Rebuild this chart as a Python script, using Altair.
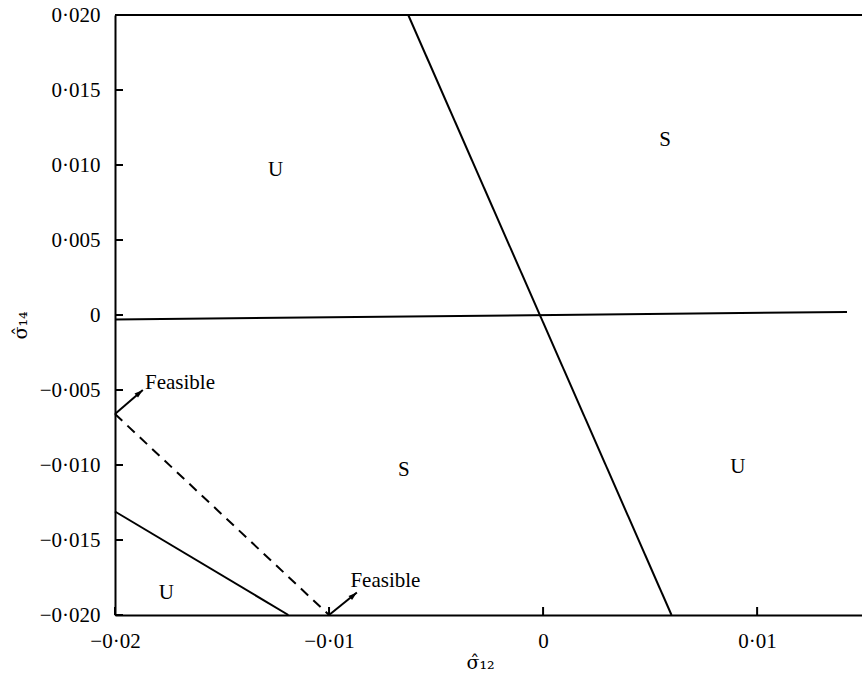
import altair as alt
import pandas as pd

# ---- data (sigma12 on x, sigma14 on y) ----
x_ticks = [-0.02, -0.01, 0.0, 0.01]
y_ticks = [-0.020, -0.015, -0.010, -0.005, 0.0, 0.005, 0.010, 0.015, 0.020]

horiz_x = [-0.0200, 0.0142]
horiz_y = [-0.0003, 0.0002]
steep_x = [-0.0063, 0.0060]
steep_y = [0.0200, -0.0200]
lower_x = [-0.0200, -0.0119]
lower_y = [-0.0131, -0.0200]
dashed_x = [-0.0200, -0.0100]
dashed_y = [-0.0066, -0.0200]

region_text = ["U", "S", "S", "U", "U"]
region_x = [-0.0125, 0.0057, -0.0065, 0.0091, -0.0176]
region_y = [0.0097, 0.0117, -0.0103, -0.0101, -0.0185]

arrow_x0 = [-0.0200, -0.0100]
arrow_y0 = [-0.0066, -0.0200]
arrow_x1 = [-0.0187, -0.0087]
arrow_y1 = [-0.0050, -0.0185]

feas_text = ["Feasible", "Feasible"]
feas_x = [-0.0186, -0.0090]
feas_y = [-0.0045, -0.0177]

# ---- tables ----
solid_df = pd.DataFrame({
    "x": horiz_x + steep_x + lower_x,
    "y": horiz_y + steep_y + lower_y,
    "seg": ["h", "h", "s", "s", "l", "l"],
})
dashed_df = pd.DataFrame({"x": dashed_x, "y": dashed_y})
region_df = pd.DataFrame({"x": region_x, "y": region_y, "t": region_text})
arrow_df = pd.DataFrame({"x": arrow_x0, "y": arrow_y0, "x2": arrow_x1, "y2": arrow_y1})
head_df = pd.DataFrame({"x": arrow_x1, "y": arrow_y1})
feas_df = pd.DataFrame({"x": feas_x, "y": feas_y, "t": feas_text})
xt_df = pd.DataFrame({"x": x_ticks})
yt_df = pd.DataFrame({"y": y_ticks})

W, H = 747, 600
FONT = "Liberation Serif"
TFONT = "DejaVu Serif"

xscale = alt.Scale(domain=[-0.02, 0.0149], nice=False, zero=False)
yscale = alt.Scale(domain=[-0.02, 0.02], nice=False, zero=False)

xaxis = alt.Axis(
    values=x_ticks, ticks=False, grid=False, domain=True, labelFlush=False,
    domainColor="black", domainWidth=2,
    labelExpr="datum.value == 0 ? '0' : replace(replace(format(datum.value, '.2f'), '.', '·'), '-', '−')",
    labelPadding=15, labelFontSize=21, labelFont=FONT, labelColor="black",
    title="σ̂₁₂", titleFont=TFONT, titleFontSize=19, titleFontWeight="normal",
    titleColor="black", titleX=365, titleY=47, titleAlign="center", titleBaseline="middle",
)
yaxis = alt.Axis(
    values=y_ticks, ticks=False, grid=False, domain=True, labelFlush=False,
    domainColor="black", domainWidth=2,
    labelExpr="datum.value == 0 ? '0' : replace(replace(format(datum.value, '.3f'), '.', '·'), '-', '−')",
    labelPadding=15, labelFontSize=21, labelFont=FONT, labelColor="black",
    title="σ̂₁₄", titleFont=TFONT, titleFontSize=19, titleFontWeight="normal",
    titleColor="black", titleX=-95, titleY=310, titleAngle=270,
    titleAlign="center", titleBaseline="middle",
)


def X(f="x"):
    return alt.X(f"{f}:Q", scale=xscale, axis=xaxis)


def Y(f="y"):
    return alt.Y(f"{f}:Q", scale=yscale, axis=yaxis)


solid = alt.Chart(solid_df).mark_line(color="black", strokeWidth=2).encode(
    x=X(), y=Y(), detail="seg:N"
)
dashed = alt.Chart(dashed_df).mark_line(
    color="black", strokeWidth=2, strokeDash=[10, 7]
).encode(x=X(), y=Y())

arrows = alt.Chart(arrow_df).mark_rule(color="black", strokeWidth=2).encode(
    x=X(), y=Y(), x2="x2:Q", y2="y2:Q"
)
heads = alt.Chart(head_df).mark_point(
    shape="M0,0L-0.45,1.4L0.45,1.4Z", filled=True, color="black",
    size=150, angle=50, opacity=1
).encode(x=X(), y=Y())

regions = alt.Chart(region_df).mark_text(
    font=FONT, fontSize=21, color="black", align="center", baseline="middle"
).encode(x=X(), y=Y(), text="t:N")

feas = alt.Chart(feas_df).mark_text(
    font=FONT, fontSize=21, color="black", align="left", baseline="middle"
).encode(x=X(), y=Y(), text="t:N")

# inward tick marks
xticks = alt.Chart(xt_df).mark_rule(color="black", strokeWidth=2).encode(
    x=X(), y=alt.value(H), y2=alt.value(H - 8)
)
yticks = alt.Chart(yt_df).mark_rule(color="black", strokeWidth=2).encode(
    y=Y(), x=alt.value(0), x2=alt.value(8)
)
top_border = alt.Chart(xt_df).mark_rule(color="black", strokeWidth=2).encode(
    x=alt.value(0), x2=alt.value(W), y=alt.value(0)
)

chart = alt.layer(
    solid, dashed, arrows, heads, regions, feas, xticks, yticks, top_border
).properties(
    width=W, height=H,
    autosize=alt.AutoSizeParams(type="none"),
    padding={"left": 115, "top": 15, "right": 0, "bottom": 68},
    background="white",
).configure_view(strokeWidth=0)

chart.save("out.html", embed_options={"renderer": "svg", "actions": False})
